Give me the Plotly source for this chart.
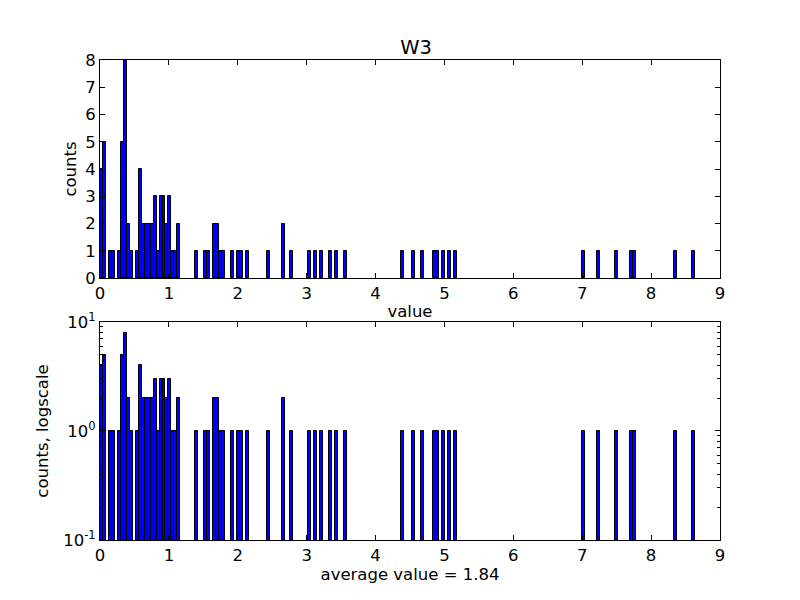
import plotly.graph_objects as go

# histogram of W3 values: 200 bins from 0 to ~8.64
bin_start = 0.0
bin_width = 0.0432
bin_index = [0, 1, 3, 4, 6, 7, 8, 9, 10, 12, 13, 14, 15, 16, 17, 18, 19, 20, 21, 22,
             23, 24, 25, 26, 32, 35, 36, 38, 39, 40, 41, 44, 46, 47, 49, 56, 61, 64,
             70, 72, 74, 77, 79, 82, 101, 105, 108, 112, 113, 115, 117, 119,
             162, 167, 173, 178, 179, 193, 199]
counts = [4, 5, 1, 1, 1, 5, 8, 2, 1, 1, 4, 2, 2, 2, 2, 3, 1, 3, 3, 2,
          3, 1, 1, 2, 1, 1, 1, 2, 2, 1, 1, 1, 1, 1, 1, 1, 2, 1,
          1, 1, 1, 1, 1, 1, 1, 1, 1, 1, 1, 1, 1, 1,
          1, 1, 1, 1, 1, 1, 1]
average_value = 1.84

centers = [bin_start + (i + 0.5) * bin_width for i in bin_index]

font = dict(family="DejaVu Sans", size=16.5, color="black")

fig = go.Figure()
for xa, ya in [("x", "y"), ("x2", "y2")]:
    fig.add_trace(go.Bar(
        x=centers, y=counts, width=bin_width,
        marker=dict(color="#0000ff", line=dict(color="black", width=1)),
        xaxis=xa, yaxis=ya, showlegend=False,
    ))

axis_common = dict(
    showgrid=False, zeroline=False, showline=True, linecolor="black", linewidth=1,
    mirror="ticks", ticks="inside", ticklen=5, tickcolor="black",
    tickfont=font,
)

# page body has an 8px margin, so the margins are shifted by that much
fig.update_layout(
    width=800, height=600,
    margin=dict(l=92, r=88, t=52, b=68),
    paper_bgcolor="white", plot_bgcolor="white",
    bargap=0,
    font=font,
    title=dict(text="W3", x=0.51, xanchor="center", y=0.935, yanchor="middle",
               font=dict(family="DejaVu Sans", size=19.5, color="black")),
    xaxis=dict(axis_common, domain=[0, 1], anchor="y", range=[0, 9], dtick=1,
               title=dict(text="value", standoff=3, font=font)),
    yaxis=dict(axis_common, domain=[0.5458, 1], anchor="x", range=[0, 8], dtick=1,
               title=dict(text="counts", standoff=4, font=font)),
    xaxis2=dict(axis_common, domain=[0, 1], anchor="y2", range=[0, 9], dtick=1,
                title=dict(text="average value = %.2f" % average_value, standoff=0, font=font)),
    yaxis2=dict(axis_common, domain=[0, 0.4542], anchor="x2", type="log", range=[-1, 1],
                tickvals=[0.1, 1, 10],
                ticktext=["10<sup>-1</sup>", "10<sup>0</sup>", "10<sup>1</sup>"],
                minor=dict(ticks="inside", ticklen=3, tickcolor="black", showgrid=False,
                           tickvals=[m * d for d in (0.1, 1) for m in range(2, 10)]),
                title=dict(text="counts, logscale", standoff=10, font=font)),
)

fig.write_html("out.html")
